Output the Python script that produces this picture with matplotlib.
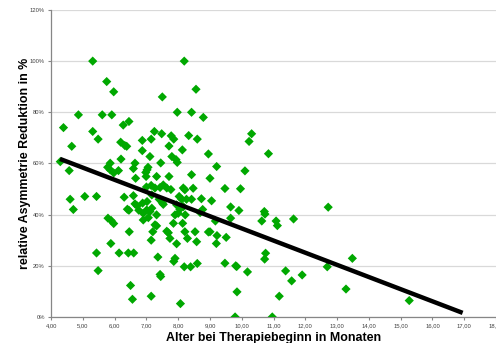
import numpy as np
import matplotlib
matplotlib.use("Agg")
import matplotlib.pyplot as plt
from matplotlib.ticker import FuncFormatter

plt.rcParams['font.family'] = ['Liberation Sans', 'DejaVu Sans']

# Alter bei Therapiebeginn (Monate) / relative Asymmetrie-Reduktion (%)
alter = [5.31, 8.19, 5.75, 5.97, 8.56, 7.50, 4.86, 5.61, 5.91, 7.97,
         8.42, 8.79, 4.39, 5.31, 5.48, 6.27, 6.45, 7.25, 7.48, 7.78,
         7.86, 7.71, 8.33, 8.60, 10.31, 10.23, 10.84, 4.65, 6.19, 6.32,
         6.38, 6.87, 7.15, 6.87, 7.11, 7.80, 8.13, 8.95, 6.20, 4.29,
         4.57, 5.86, 5.78, 6.12, 5.97, 6.64, 6.59, 7.45, 7.93, 7.97,
         7.05, 7.02, 6.98, 8.42, 9.21, 10.10, 9.00, 7.71, 7.32, 6.99,
         6.66, 5.86,
         7.00, 7.15, 7.27, 7.43, 7.53, 7.64, 7.77, 8.16, 8.21, 8.47,
         9.47, 9.96, 4.60, 4.70, 5.06, 5.43, 6.30, 6.59, 6.64, 6.71,
         6.40, 6.45, 6.76, 6.88, 7.17, 7.02, 7.40, 7.50, 7.53, 8.03,
         8.11, 8.26, 8.42, 8.73, 9.05, 9.65, 9.91, 8.77, 8.69, 7.95,
         8.05, 8.16, 7.90, 8.00, 8.22, 7.01, 7.11, 7.17, 6.90, 7.32,
         10.71, 10.73, 12.72,
         10.63, 11.08, 11.12, 11.63, 9.65, 9.17, 6.90, 7.06, 5.79, 5.89,
         5.97, 7.27, 7.32, 7.85, 8.14, 9.00, 8.95, 9.22, 9.51, 9.20,
         8.53, 8.58, 8.29, 8.21, 7.64, 7.69, 7.74, 7.95, 7.20, 7.15,
         6.46, 5.88, 7.36, 5.43, 6.14, 6.43, 6.60, 5.48, 7.43, 7.45,
         8.19, 8.39, 8.60, 7.86, 7.90, 9.47, 9.81, 9.84, 10.18, 10.75,
         10.72, 11.38, 11.57, 11.90, 12.69, 13.48, 11.18, 13.28, 15.27, 10.96,
         9.79, 9.85, 6.50, 6.56, 7.15, 8.07]
reduktion = [100, 100, 92, 88, 89, 86, 79, 79, 79, 80,
             80, 78, 74, 72.5, 69.5, 75, 76.4, 72.5, 71.6, 70.8,
             69.5, 66.8, 70.9, 69.5, 71.6, 68.6, 63.8, 66.7, 68.3, 67,
             66.7, 69, 69.5, 65, 62.7, 62.7, 65.3, 63.7, 61.7, 60.7,
             57.2, 60.1, 58.5, 57.2, 56.3, 60.1, 58, 60.2, 61.5, 60.4,
             58.5, 57.5, 56.5, 55.6, 58.8, 57.1, 54.2, 54.9, 54.9, 54.9,
             54.2, 57.5,
             50.8, 51.4, 50.4, 50.6, 51.6, 50.4, 49.8, 50.4, 49.7, 50.3,
             50.2, 50.1, 46, 42, 47.1, 47.1, 46.8, 47.4, 44.2, 43.4,
             42.1, 41.7, 41.7, 44.5, 47.7, 45.1, 46, 44.6, 44, 47.1,
             46, 46, 46, 46.2, 45.4, 43, 41.6, 42, 40.8, 43.8,
             42.1, 43.1, 39.9, 40.5, 39.9, 41.8, 41.2, 42.5, 40.5, 39.9,
             41.2, 40.2, 42.9,
             37.5, 37.5, 35.7, 38.3, 38.6, 37.5, 37.9, 38.8, 38.6, 37.7,
             36.5, 36, 35.6, 36.6, 36.6, 33.3, 33.2, 31.8, 31.1, 28.7,
             33.3, 29.4, 30.7, 33.3, 33.5, 32.9, 30.7, 28.6, 33.3, 30,
             33.3, 28.7, 23.4, 25, 25, 25, 25, 18.1, 16.6, 15.8,
             19.6, 19.6, 20.9, 21.7, 22.9, 21, 20, 19.7, 17.6, 24.9,
             22.6, 18, 14.1, 16.4, 19.6, 22.9, 8.1, 10.9, 6.4, 0,
             0, 9.8, 12.3, 6.9, 8.1, 5.2]

# lineare Trendlinie
trend_x = [4.28, 16.95]
trend_slope = -4.75
trend_intercept = 82.1

x_ticks = np.arange(4, 19, 1)
y_ticks = np.arange(0, 121, 20)

fig = plt.figure(figsize=(4.96, 3.43), dpi=100)
ax = fig.add_axes([0.103, 0.076, 0.897, 0.895])

ax.scatter(alter, reduktion, marker='D', s=22, color='#00A800',
           edgecolors='none', zorder=3)
tx = np.array(trend_x)
ax.plot(tx, trend_intercept + trend_slope * tx, color='black', lw=3.2,
        solid_capstyle='butt', zorder=4)

ax.set_xlim(4, 18)
ax.set_ylim(0, 120)
ax.set_xticks(x_ticks)
ax.set_yticks(y_ticks)
ax.xaxis.set_major_formatter(FuncFormatter(lambda v, p: f"{v:.2f}".replace('.', ',')))
ax.yaxis.set_major_formatter(FuncFormatter(lambda v, p: f"{int(v)}%"))
ax.yaxis.grid(True, color='#d9d9d9', lw=0.9)
ax.set_axisbelow(True)

for s in ['top', 'right']:
    ax.spines[s].set_visible(False)
for s in ['left', 'bottom']:
    ax.spines[s].set_color('#868686')
    ax.spines[s].set_linewidth(0.9)
ax.tick_params(axis='both', labelsize=4.2, colors='#868686', labelcolor='#404040',
               length=2.5, width=0.8, pad=2)

ax.set_xlabel("Alter bei Therapiebeginn in Monaten", fontsize=8.9,
              fontweight='bold', labelpad=3)
ax.set_ylabel("relative Asymmetrie Reduktion in %", fontsize=8.9,
              fontweight='bold', labelpad=-1)

fig.savefig("out.png", dpi=100)
